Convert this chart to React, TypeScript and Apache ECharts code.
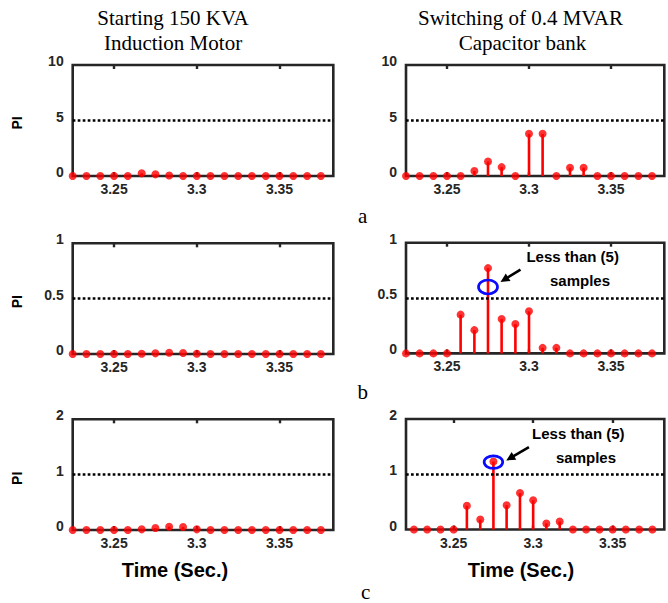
import { useEffect, useRef } from 'react';
import * as echarts from 'echarts';

// Sample instants (half-cycle spacing at 60 Hz)
const sampleTimes = [
  3.225, 3.2333, 3.2417, 3.25, 3.2583, 3.2667, 3.275, 3.2833, 3.2917, 3.3,
  3.3083, 3.3167, 3.325, 3.3333, 3.3417, 3.35, 3.3583, 3.3667, 3.375,
];

// PI values, starting 150 KVA induction motor
const motorPI_a = [0, 0, 0, 0, 0, 0.24, 0.15, 0.05, 0, 0, 0, 0, 0, 0, 0, 0, 0, 0, 0];
const motorPI_b = [0, 0, 0, 0, 0, 0.003, 0.006, 0.012, 0.009, 0.002, 0, 0, 0, 0, 0, 0, 0, 0, 0];
const motorPI_c = [0, 0, 0, 0, 0, 0.012, 0.036, 0.06, 0.054, 0.012, 0, 0, 0, 0, 0, 0, 0, 0, 0];

// PI values, switching of 0.4 MVAR capacitor bank
const capPI_a = [0, 0, 0, 0, 0, 0.45, 1.3, 0.8, 0, 3.8, 3.8, 0, 0.75, 0.75, 0, 0, 0, 0, 0];
const capPI_b = [0, 0, 0, 0, 0.35, 0.21, 0.77, 0.31, 0.265, 0.38, 0.05, 0.05, 0, 0, 0, 0, 0, 0, 0];
const capPI_c = [0, 0, 0, 0, 0.43, 0.18, 1.23, 0.44, 0.66, 0.53, 0.11, 0.145, 0, 0, 0, 0, 0, 0, 0];

// Axis settings per row (a, b, c)
const yMax = [10, 1, 2];
const yStep = [5, 0.5, 1];
const thresholds = [5, 0.5, 1];
const xTicks = [3.25, 3.3, 3.35];

const titleLeft = ['Starting 150 KVA', 'Induction Motor'];
const titleRight = ['Switching of 0.4 MVAR', 'Capacitor bank'];
const rowLetters = ['a', 'b', 'c'];
const noteLines = ['Less than (5)', 'samples'];

const SANS = '"Liberation Sans", Arial, sans-serif';
const SERIF = '"Liberation Serif", "Times New Roman", serif';
const INK = '#262626';

// panel boxes: [left, top, width, height]
const boxes = [
  [72.7, 65, 260.6, 111],
  [406, 65, 258.3, 111],
  [72.7, 243.3, 260.6, 110.7],
  [406, 242.7, 258.3, 110.7],
  [72.7, 419.3, 260.6, 110.7],
  [406, 419, 258.3, 110.5],
];
const xMins = [3.225, 3.225, 3.225, 3.225, 3.225, 3.22];
const xMax = 3.3825;

const panelData = [motorPI_a, capPI_a, motorPI_b, capPI_b, motorPI_c, capPI_c];

export default function App() {
  const ref = useRef<HTMLDivElement>(null);

  useEffect(() => {
    if (!ref.current) return;
    const chart = echarts.init(ref.current, null, { renderer: 'svg' });

    const grids: any[] = [];
    const xAxes: any[] = [];
    const yAxes: any[] = [];
    const series: any[] = [];

    panelData.forEach((vals, i) => {
      const row = Math.floor(i / 2);
      const [l, t, w, h] = boxes[i];
      grids.push({
        left: l,
        top: t,
        width: w,
        height: h,
        show: true,
        borderColor: INK,
        borderWidth: 2.6,
        backgroundColor: 'transparent',
      });
      const tickCommon = {
        show: true,
        inside: true,
        length: 4,
        customValues: xTicks,
        lineStyle: { color: INK, width: 2.4 },
      };
      xAxes.push({
        type: 'value',
        gridIndex: i,
        position: 'bottom',
        min: xMins[i],
        max: xMax,
        axisLine: { show: false },
        splitLine: { show: false },
        axisTick: tickCommon,
        axisLabel: {
          show: true,
          customValues: xTicks,
          margin: 6,
          color: INK,
          fontFamily: SANS,
          fontWeight: 'bold',
          fontSize: 14,
          formatter: (v: number) => String(Number(v.toFixed(2))),
        },
      });
      xAxes.push({
        type: 'value',
        gridIndex: i,
        position: 'top',
        min: xMins[i],
        max: xMax,
        axisLine: { show: false },
        splitLine: { show: false },
        axisTick: tickCommon,
        axisLabel: { show: false },
      });
      yAxes.push({
        type: 'value',
        gridIndex: i,
        min: 0,
        max: yMax[row],
        interval: yStep[row],
        axisLine: { show: false },
        axisTick: { show: false },
        splitLine: { show: false },
        axisLabel: {
          margin: 9,
          color: INK,
          fontFamily: SANS,
          fontWeight: 'bold',
          fontSize: 14,
          verticalAlign: 'bottom',
          lineHeight: 8,
        },
      });
      const pts = sampleTimes.map((tm, k) => [tm, vals[k]]);
      series.push({
        type: 'custom',
        xAxisIndex: i * 2,
        yAxisIndex: i,
        data: pts,
        z: 2,
        renderItem: (_p: any, api: any) => {
          const x = api.value(0);
          const y = api.value(1);
          const p0 = api.coord([x, 0]);
          const p1 = api.coord([x, y]);
          return {
            type: 'line',
            shape: { x1: p0[0], y1: p0[1], x2: p1[0], y2: p1[1] },
            style: { stroke: '#ff0000', lineWidth: 2.6 },
          };
        },
        markLine: {
          silent: true,
          symbol: ['none', 'none'],
          label: { show: false },
          lineStyle: { color: '#000', type: [2.7, 2.3], width: 2.7 },
          data: [{ yAxis: thresholds[row] }],
        },
      });
      series.push({
        type: 'scatter',
        xAxisIndex: i * 2,
        yAxisIndex: i,
        data: pts,
        symbol: 'circle',
        symbolSize: 8,
        clip: false,
        z: 3,
        itemStyle: { color: '#ff0000' },
      });
    });

    chart.setOption({
      animation: false,
      backgroundColor: '#fff',
      grid: grids,
      xAxis: xAxes,
      yAxis: yAxes,
      series,
    });

    const textEl = (text: string, x: number, y: number, font: any, extra: any = {}) => ({
      type: 'text',
      x,
      y,
      ...extra,
      style: {
        text,
        align: 'center',
        verticalAlign: 'middle',
        fill: '#000',
        ...font,
      },
    });
    const titleFont = { fontFamily: SERIF, fontSize: 21 };
    const letterFont = { fontFamily: SERIF, fontSize: 21 };
    const boldSans = (s: number) => ({ fontFamily: SANS, fontWeight: 'bold', fontSize: s });

    const graphic: any[] = [
      textEl(titleLeft[0], 173, 18, titleFont),
      textEl(titleLeft[1], 173, 43, titleFont),
      textEl(titleRight[0], 520.5, 18, titleFont),
      textEl(titleRight[1], 522.5, 43, titleFont),
      textEl(rowLetters[0], 362.7, 215.5, letterFont),
      textEl(rowLetters[1], 362.7, 392, letterFont),
      textEl(rowLetters[2], 365.7, 592, letterFont),
      textEl('PI', 17, 123, boldSans(14), { rotation: Math.PI / 2 }),
      textEl('PI', 17, 301.7, boldSans(14), { rotation: Math.PI / 2 }),
      textEl('PI', 17, 478.3, boldSans(14), { rotation: Math.PI / 2 }),
      textEl('Time (Sec.)', 175, 570, boldSans(20)),
      textEl('Time (Sec.)', 521, 570, boldSans(20)),
      textEl(noteLines[0], 572.7, 256.7, boldSans(15)),
      textEl(noteLines[1], 580, 280.7, boldSans(15)),
      textEl(noteLines[0], 578.3, 433.3, boldSans(15)),
      textEl(noteLines[1], 586, 457.3, boldSans(15)),
    ];

    // highlight rings on the peak samples, with pointer arrows
    const marks = [
      { grid: 3, at: [sampleTimes[6], 0.6], rx: 9.5, ry: 7, tip: [12.5, -5], tail: [32.5, -17.4] },
      { grid: 5, at: [sampleTimes[6], 1.22], rx: 9.3, ry: 6.3, tip: [12.8, -1.6], tail: [35.5, -15] },
    ];
    marks.forEach((m) => {
      const c = chart.convertToPixel({ gridIndex: m.grid }, m.at) as number[];
      graphic.push({
        type: 'ellipse',
        z: 10,
        shape: { cx: c[0], cy: c[1], rx: m.rx, ry: m.ry },
        style: { fill: 'none', stroke: '#0a0aff', lineWidth: 2.7 },
      });
      const tx = c[0] + m.tip[0];
      const ty = c[1] + m.tip[1];
      const sx = c[0] + m.tail[0];
      const sy = c[1] + m.tail[1];
      const dx = tx - sx;
      const dy = ty - sy;
      const len = Math.hypot(dx, dy);
      const ux = dx / len;
      const uy = dy / len;
      const headL = 9;
      const headW = 4.5;
      const bx = tx - ux * headL;
      const by = ty - uy * headL;
      graphic.push({
        type: 'line',
        z: 10,
        shape: { x1: sx, y1: sy, x2: bx + ux, y2: by + uy },
        style: { stroke: '#000', lineWidth: 2.6 },
      });
      graphic.push({
        type: 'polygon',
        z: 10,
        shape: {
          points: [
            [tx, ty],
            [bx - uy * headW, by + ux * headW],
            [bx + uy * headW, by - ux * headW],
          ],
        },
        style: { fill: '#000' },
      });
    });

    chart.setOption({ graphic });

    return () => chart.dispose();
  }, []);

  return (
    <div
      ref={ref}
      style={{ position: 'fixed', left: 0, top: 0, width: 668, height: 603, background: '#fff' }}
    />
  );
}
